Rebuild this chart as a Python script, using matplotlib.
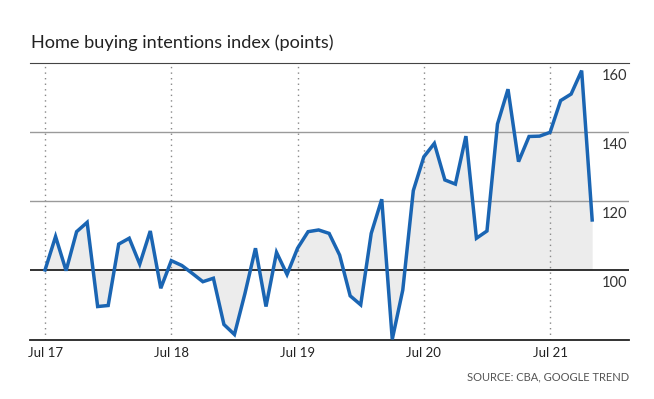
from matplotlib import pyplot as plt

# monthly index, Jul 2017 .. Nov 2021
values = [
    100.0, 109.7, 99.8, 111.1, 113.8, 89.4, 89.7, 107.5, 109.2, 101.7, 111.3, 94.7,
    102.7, 101.3, 99.0, 96.6, 97.6, 84.2, 81.3, 93.2, 106.3, 89.4, 105.1, 98.7,
    106.3, 111.1, 111.6, 110.6, 104.3, 92.5, 89.9, 110.6, 120.5, 79.9, 94.2, 123.0,
    132.8, 136.7, 126.1, 124.9, 138.8, 109.2, 111.3, 142.3, 152.4, 131.4, 138.7, 138.8,
    139.9, 149.1, 151.0, 157.8, 114.5,
]
tick_months = [0, 12, 24, 36, 48]
tick_labels = ['Jul 17', 'Jul 18', 'Jul 19', 'Jul 20', 'Jul 21']
y_levels = [100, 120, 140, 160]

plt.rcParams['font.family'] = ['Lato', 'DejaVu Sans']

fig = plt.figure(figsize=(6.54, 3.99), dpi=100)
ax = fig.add_axes([30 / 654, 59 / 399, 599 / 654, 277 / 399])

x = list(range(len(values)))
ax.fill_between(x, values, 100, color='#ececec', lw=0)
ax.axhline(100, color='#222222', lw=1.3, zorder=2)
for v in (120, 140):
    ax.axhline(v, color='#9a9a9a', lw=1, zorder=2)
ax.plot(x, values, color='#1a65b3', lw=2.5, zorder=3, solid_joinstyle='miter')

ax.set_xlim(-1.43, 55.5)
ax.set_ylim(79.7, 160)

for s in ('left', 'right'):
    ax.spines[s].set_visible(False)
ax.spines['top'].set_color('#444444')
ax.spines['bottom'].set_color('#222222')
ax.spines['bottom'].set_linewidth(1.3)

ax.set_xticks(tick_months, tick_labels)
ax.grid(axis='x', linestyle=(0, (1, 3)), color='#888888', lw=1)
ax.tick_params(axis='x', length=0, pad=5, labelsize=9.5, colors='#222222')
ax.set_yticks([])

for v in y_levels:
    ax.annotate(str(v), xy=(1, v), xycoords=('axes fraction', 'data'),
                xytext=(-1, -4), textcoords='offset points',
                ha='right', va='top', fontsize=10.5, color='#333333')

fig.text(31 / 654, 1 - 43 / 399, 'Home buying intentions index (points)',
         va='center', ha='left', fontsize=13.1, color='#222222')
fig.text(629 / 654, 1 - 377 / 399, 'SOURCE: CBA, GOOGLE TREND',
         va='center', ha='right', fontsize=8, color='#555555')

fig.savefig('out.png', dpi=100)
